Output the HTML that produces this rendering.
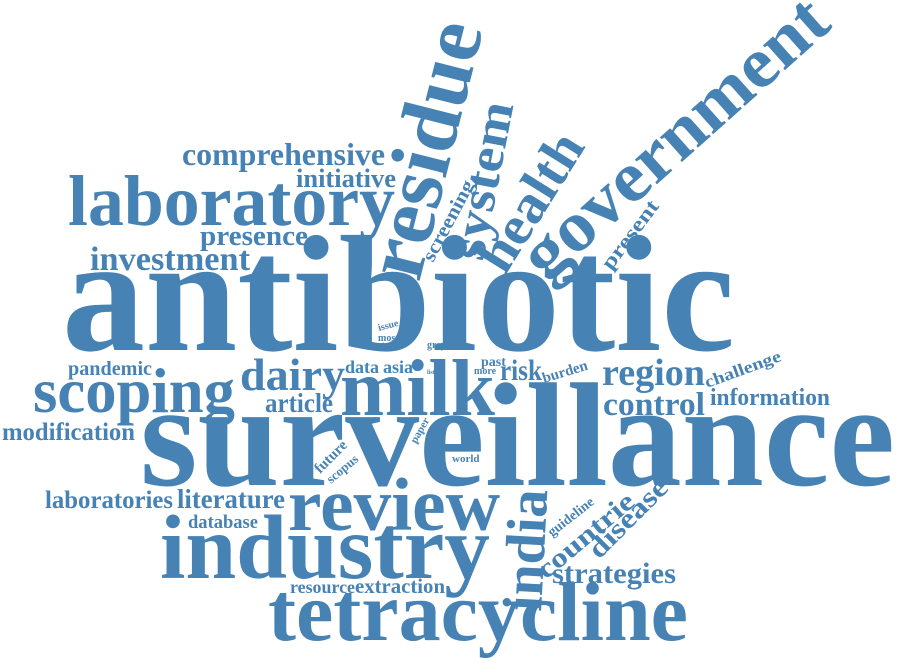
<!DOCTYPE html>
<html><head><meta charset="utf-8"><style>
html,body{margin:0;padding:0;background:#fff;width:900px;height:665px;overflow:hidden}
svg text{font-family:"Liberation Serif",serif;font-weight:bold;fill:#4682b4}
</style></head><body>
<svg width="900" height="665" viewBox="0 0 900 665">
<text x="62" y="350" font-size="166" textLength="673" lengthAdjust="spacingAndGlyphs">antibiotic</text>
<text x="140" y="485" font-size="148" textLength="755" lengthAdjust="spacingAndGlyphs">surveillance</text>
<text x="268" y="640" font-size="84" textLength="420" lengthAdjust="spacingAndGlyphs">tetracycline</text>
<text x="160" y="578" font-size="91" textLength="330" lengthAdjust="spacingAndGlyphs">industry</text>
<text x="288" y="530" font-size="75" textLength="212" lengthAdjust="spacingAndGlyphs">review</text>
<text x="340" y="415" font-size="80" textLength="155" lengthAdjust="spacingAndGlyphs">milk</text>
<text x="33" y="412" font-size="63" textLength="202" lengthAdjust="spacingAndGlyphs">scoping</text>
<text x="240" y="390" font-size="46" textLength="105" lengthAdjust="spacingAndGlyphs">dairy</text>
<text x="68" y="225" font-size="72" textLength="327" lengthAdjust="spacingAndGlyphs">laboratory</text>
<text x="182" y="165" font-size="32" textLength="203" lengthAdjust="spacingAndGlyphs">comprehensive</text>
<text x="296" y="187" font-size="26" textLength="100" lengthAdjust="spacingAndGlyphs">initiative</text>
<text x="200" y="245" font-size="29" textLength="108" lengthAdjust="spacingAndGlyphs">presence</text>
<text x="90" y="270" font-size="34" textLength="160" lengthAdjust="spacingAndGlyphs">investment</text>
<text x="68" y="375" font-size="20" textLength="84" lengthAdjust="spacingAndGlyphs">pandemic</text>
<text x="265" y="412" font-size="27" textLength="68" lengthAdjust="spacingAndGlyphs">article</text>
<text x="2" y="440" font-size="25" textLength="133" lengthAdjust="spacingAndGlyphs">modification</text>
<text x="45" y="508" font-size="25" textLength="128" lengthAdjust="spacingAndGlyphs">laboratories</text>
<text x="177" y="508" font-size="27" textLength="108" lengthAdjust="spacingAndGlyphs">literature</text>
<text x="188" y="528" font-size="19" textLength="70" lengthAdjust="spacingAndGlyphs">database</text>
<text x="290" y="593" font-size="18" textLength="65" lengthAdjust="spacingAndGlyphs">resource</text>
<text x="355" y="593" font-size="21" textLength="90" lengthAdjust="spacingAndGlyphs">extraction</text>
<text x="552" y="583" font-size="30" textLength="124" lengthAdjust="spacingAndGlyphs">strategies</text>
<text x="602" y="385" font-size="38" textLength="103" lengthAdjust="spacingAndGlyphs">region</text>
<text x="603" y="415" font-size="33" textLength="102" lengthAdjust="spacingAndGlyphs">control</text>
<text x="710" y="405" font-size="24" textLength="120" lengthAdjust="spacingAndGlyphs">information</text>
<text transform="translate(707,388) rotate(-20)" font-size="17" textLength="80" lengthAdjust="spacingAndGlyphs">challenge</text>
<text x="345" y="373" font-size="18">data</text>
<text x="383" y="373" font-size="18">asia</text>
<text x="500" y="380" font-size="30" textLength="42" lengthAdjust="spacingAndGlyphs">risk</text>
<text x="481" y="366" font-size="14">past</text>
<text x="474" y="374" font-size="10">more</text>
<text transform="translate(544,383) rotate(-17)" font-size="15">burden</text>
<text x="427" y="374" font-size="6">list</text>
<text x="427" y="348" font-size="10">grey</text>
<text transform="translate(379,331) rotate(-15)" font-size="10">issue</text>
<text x="378" y="341" font-size="10">most</text>
<text x="379" y="349" font-size="9">time</text>
<text transform="translate(416,444) rotate(-60)" font-size="11">paper</text>
<text x="452" y="462" font-size="11">world</text>
<text transform="translate(320,474) rotate(-45)" font-size="15">future</text>
<text transform="translate(331,484) rotate(-40)" font-size="13">scopus</text>
<text transform="translate(552,537) rotate(-38)" font-size="14">guideline</text>
<text transform="translate(546,580) rotate(-40)" font-size="27" textLength="118" lengthAdjust="spacingAndGlyphs">countrie</text>
<text transform="translate(599,560) rotate(-45)" font-size="28" textLength="100" lengthAdjust="spacingAndGlyphs">disease</text>
<text transform="translate(541,612) rotate(-87)" font-size="56" textLength="122" lengthAdjust="spacingAndGlyphs">india</text>
<text transform="translate(419,283) rotate(-75.8)" font-size="84" textLength="262" lengthAdjust="spacingAndGlyphs">residue</text>
<text transform="translate(483,262) rotate(-79)" font-size="50" textLength="160" lengthAdjust="spacingAndGlyphs">system</text>
<text transform="translate(505,276) rotate(-58)" font-size="55" textLength="153" lengthAdjust="spacingAndGlyphs">health</text>
<text transform="translate(546,283) rotate(-41.7)" font-size="72" textLength="385" lengthAdjust="spacingAndGlyphs">government</text>
<text transform="translate(433,263) rotate(-62)" font-size="20" textLength="89" lengthAdjust="spacingAndGlyphs">screening</text>
<text transform="translate(611,271) rotate(-53)" font-size="21" textLength="81" lengthAdjust="spacingAndGlyphs">present</text>
</svg>
</body></html>
